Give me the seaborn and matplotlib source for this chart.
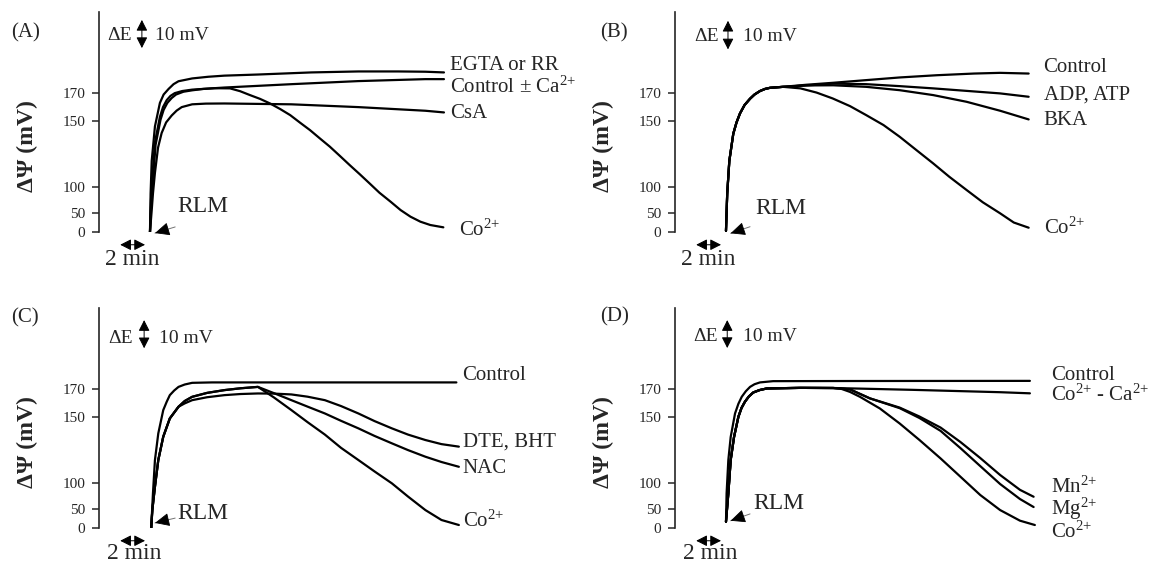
import numpy as np
import pandas as pd
import seaborn as sns
import matplotlib.pyplot as plt

# time in min after adding RLM, membrane potential in mV

# (A) EGTA / RR, control, CsA, Co2+
a_egta_t = [0, 0.05, 0.14, 0.4, 0.8, 1.1, 1.5, 1.9, 2.3, 3.4, 4.7, 6.0, 8.7, 13.0, 16.8, 20.0, 22.2, 23.7]
a_egta_mv = [0, 88, 120, 146, 163, 169, 173, 176.4, 178.5, 180.5, 181.7, 182.5, 183.3, 184.8, 185.5, 185.5, 185.3, 184.8]
a_ctrl_t = [0, 0.08, 0.16, 0.4, 0.8, 1.05, 1.35, 1.65, 2.0, 2.6, 3.4, 6.0, 11.4, 16.8, 22.2, 23.7]
a_ctrl_mv = [0, 75, 104, 134, 153, 160, 165, 168, 170, 171.5, 172.5, 174, 176.4, 178.6, 180, 180]
a_csa_t = [0, 0.14, 0.24, 0.4, 0.65, 0.94, 1.3, 1.75, 2.15, 2.56, 3.4, 4.5, 6.0, 11.4, 16.8, 22.2, 23.7]
a_csa_mv = [0, 56, 88, 111, 130, 141, 149, 154, 157.5, 160, 162, 162.5, 162.6, 162, 160, 157.4, 156.2]
a_co_t = [0, 0.1, 0.2, 0.45, 0.85, 1.1, 1.4, 1.75, 2.1, 2.7, 3.4, 4.3, 5.2, 6.45, 7.26, 8.06,
          8.87, 9.68, 10.5, 11.3, 12.1, 12.9, 13.7, 14.5, 15.3, 16.1, 16.9, 17.7, 18.5, 19.4,
          20.2, 21.0, 21.8, 22.6, 23.65]
a_co_mv = [0, 70, 100, 132, 151, 158, 163, 166.5, 169, 171, 172, 173, 173.5, 173.4, 171.4, 168.6,
           165.9, 162.6, 158.6, 154.3, 148.8, 143.2, 136.9, 130.7, 123.8, 116.8, 110, 103, 89.6, 72.3,
           56.3, 41, 27.6, 18.7, 12.5]

# (B) control, ADP/ATP, BKA, Co2+ (shared rise)
b_rise_t = [0, 0.1, 0.27, 0.59, 0.85, 1.13, 1.5, 1.94, 2.3, 2.74, 3.15, 3.55, 4.6]
b_rise_mv = [3, 88, 120, 140.5, 149, 155.5, 161.5, 166, 169, 171.5, 173, 173.8, 174.5]
b_ctrl_t = [6.5, 8.65, 11.3, 14.0, 17.0, 20.0, 22.1, 24.4]
b_ctrl_mv = [176, 177.4, 179.3, 181.2, 182.8, 184, 184.5, 184]
b_adp_t = [6.5, 8.65, 11.3, 14.0, 16.7, 19.4, 22.1, 24.4]
b_adp_mv = [175.5, 176.8, 176.4, 175, 173.4, 171.6, 169.8, 167.4]
b_bka_t = [6.5, 8.65, 11.3, 14.0, 16.7, 19.4, 22.1, 24.4]
b_bka_mv = [175.5, 175.6, 174.5, 172.1, 168.6, 163.8, 157.4, 151.2]
b_co_t = [6.0, 7.3, 8.6, 10.0, 11.3, 12.7, 14.0, 15.3, 16.7, 18.0, 19.4, 20.7, 22.1, 23.2, 24.4]
b_co_mv = [173.4, 170.4, 166.2, 160.7, 154.3, 147, 138.2, 128.5, 118.1, 108, 94.8, 71.3, 50, 25.4, 11.5]

# (C) control, DTE/BHT, NAC, Co2+
c_ctrl_t = [0.1, 0.24, 0.4, 0.67, 1.07, 1.35, 1.6, 1.95, 2.3, 2.8, 3.4, 5.0, 24.7]
c_ctrl_mv = [0, 80.7, 117.6, 137.7, 155, 161, 165.7, 169, 171.6, 173.3, 174.5, 174.8, 174.8]
c_rise_t = [0.1, 0.19, 0.4, 0.67, 1.07, 1.6, 2.3]
c_rise_mv = [0, 48.5, 93.5, 117.6, 135.2, 149, 157.4]
c_peak_t = [2.8, 3.4, 4.6, 6.0, 7.3, 8.7]
c_peak_mv = [161.5, 164.5, 167.3, 169.3, 170.6, 171.6]
c_dte_t = [2.8, 3.4, 4.6, 6.0, 7.3, 8.7, 10.0, 11.4, 12.7, 14.1, 15.4, 16.8, 18.1, 19.5, 20.8, 22.2, 23.5, 24.9]
c_dte_mv = [159.8, 162.1, 164.2, 165.7, 166.5, 166.9, 166.8, 166.2, 164.6, 162.1, 157.9, 152.6, 147,
            141.5, 136.8, 132.7, 129.6, 127.7]
c_nac_t = [10.0, 11.4, 12.7, 14.1, 15.4, 16.8, 18.1, 19.5, 20.8, 22.2, 23.5, 24.9]
c_nac_mv = [167.1, 162.1, 157.5, 152.6, 147.2, 141.5, 135.8, 130.2, 125.1, 120.1, 116.1, 112.5]
c_co_t = [10.0, 11.4, 12.7, 14.1, 15.4, 16.8, 18.1, 19.5, 20.8, 22.2, 23.5, 24.9]
c_co_mv = [164, 155, 146.2, 136.8, 126.8, 117.6, 109, 100, 74.6, 48, 21.4, 8]

# (D) control, Co2+ - Ca2+, Mn2+, Mg2+, Co2+
d_ctrl_t = [0, 0.05, 0.19, 0.38, 0.73, 1.0, 1.27, 1.6, 1.94, 2.3, 2.74, 3.8, 10.0, 24.5]
d_ctrl_mv = [17, 80.7, 117.6, 135, 152.6, 159.5, 164.5, 168.5, 171.6, 173.5, 174.8, 175.7, 175.8, 175.9]
d_rise_t = [0, 0.19, 0.38, 0.65, 1.0, 1.25, 1.53, 1.85, 2.2, 2.7, 3.3, 6.0, 8.65]
d_rise_mv = [17, 80.7, 117.6, 135, 150.2, 156.5, 161, 164.8, 167.6, 169.3, 170.5, 170.9, 170.8]
d_coca_t = [15.0, 22.1, 24.5]
d_coca_mv = [169.5, 167.8, 167.0]
d_mn_t = [10.0, 11.6, 14.0, 15.6, 17.3, 18.9, 20.5, 22.1, 23.7, 24.8]
d_mn_mv = [169.8, 163.4, 156.8, 150.4, 142.1, 131.2, 119.1, 106.3, 87.5, 74.2]
d_mg_t = [10.0, 11.6, 14.0, 15.6, 17.3, 18.9, 20.5, 22.1, 23.7, 24.8]
d_mg_mv = [169.8, 163.4, 156.4, 149.3, 139.6, 126.6, 113, 98.7, 69.8, 54.4]
d_co_t = [9.2, 10.0, 10.8, 12.4, 14.0, 15.6, 17.3, 18.9, 20.5, 22.1, 23.7, 24.9]
d_co_mv = [170.5, 168, 164.5, 156.2, 145.2, 132.7, 118.8, 105, 77.5, 48, 19.6, 8]

y_ticks = [0, 50, 100, 150, 170]

sns.set_style("ticks")
plt.rcParams["font.family"] = ["Liberation Serif", "DejaVu Serif"]
plt.rcParams["mathtext.fontset"] = "custom"
plt.rcParams["mathtext.rm"] = "Liberation Serif"
plt.rcParams["mathtext.it"] = "Liberation Serif:italic"
plt.rcParams["mathtext.bf"] = "Liberation Serif:bold"

# the potential axis is not linear: tick value -> height of the tick
SCALE_MV = [-50, 0, 50, 100, 150, 170, 260]
SCALE_PX = [-18.7, 0, 18.7, 44.7, 111, 139, 265]


def fwd(v):
    return np.interp(v, SCALE_MV, SCALE_PX)


def inv(p):
    return np.interp(p, SCALE_PX, SCALE_MV)


def frame(traces):
    parts = [pd.DataFrame({"t": t, "mv": v, "trace": name}) for name, (t, v) in traces.items()]
    return pd.concat(parts, ignore_index=True)


ION = "$^{2{+}}$"   # braces keep mathtext from spacing the plus sign

panels = [
    dict(letter="(A)", pos=(98.5, 232), letter_xy=(11, 33),
         traces={"egta": (a_egta_t, a_egta_mv), "ctrl": (a_ctrl_t, a_ctrl_mv),
                 "csa": (a_csa_t, a_csa_mv), "co": (a_co_t, a_co_mv)},
         labels=[(24.2, 190, "EGTA or RR"), (24.2, 174.3, "Control ± Ca" + ION),
                 (24.2, 155.7, "CsA"), (24.9, 5, "Co" + ION)],
         de=(0.023, 0.895, 0.116, 0.964, 0.836, 0.151),
         rlm=(0.21, 0.114, 0.205, 0.023, 0.151, -0.005),
         mins=(-1.45, -0.127)),
    dict(letter="(B)", pos=(674.5, 232), letter_xy=(600, 33),
         traces={"ctrl": (b_rise_t + b_ctrl_t, b_rise_mv + b_ctrl_mv),
                 "adp": (b_rise_t + b_adp_t, b_rise_mv + b_adp_mv),
                 "bka": (b_rise_t + b_bka_t, b_rise_mv + b_bka_mv),
                 "co": (b_rise_t + b_co_t, b_rise_mv + b_co_mv)},
         labels=[(25.6, 188, "Control"), (25.6, 168.6, "ADP, ATP"),
                 (25.6, 150.7, "BKA"), (25.6, 10.7, "Co" + ION)],
         de=(0.052, 0.888, 0.143, 0.96, 0.83, 0.183),
         rlm=(0.217, 0.109, 0.202, 0.024, 0.150, -0.006),
         mins=(-1.45, -0.127)),
    dict(letter="(C)", pos=(98.5, 528), letter_xy=(11, 318),
         traces={"ctrl": (c_ctrl_t, c_ctrl_mv),
                 "dte": (c_rise_t + c_dte_t, c_rise_mv + c_dte_mv),
                 "nac": (c_rise_t + c_peak_t + c_nac_t, c_rise_mv + c_peak_mv + c_nac_mv),
                 "co": (c_rise_t + c_peak_t + c_co_t, c_rise_mv + c_peak_mv + c_co_mv)},
         labels=[(25.2, 180, "Control"), (25.2, 131.4, "DTE, BHT"),
                 (25.2, 111.5, "NAC"), (25.2, 17, "Co" + ION)],
         de=(0.025, 0.862, 0.122, 0.945, 0.817, 0.162),
         rlm=(0.21, 0.068, 0.205, 0.045, 0.151, 0.023),
         mins=(-1.3, -0.115)),
    dict(letter="(D)", pos=(674.5, 528), letter_xy=(600, 317),
         traces={"ctrl": (d_ctrl_t, d_ctrl_mv),
                 "coca": (d_rise_t + d_coca_t, d_rise_mv + d_coca_mv),
                 "mn": (d_rise_t + d_mn_t, d_rise_mv + d_mn_mv),
                 "mg": (d_rise_t + d_mg_t, d_rise_mv + d_mg_mv),
                 "co": (d_rise_t + d_co_t, d_rise_mv + d_co_mv)},
         labels=[(26.2, 180, "Control"), (26.2, 166, "Co" + ION + " - Ca" + ION),
                 (26.2, 93.5, "Mn" + ION), (26.2, 50, "Mg" + ION), (26.2, -10, "Co" + ION)],
         de=(0.049, 0.87, 0.141, 0.945, 0.818, 0.184),
         rlm=(0.210, 0.111, 0.202, 0.064, 0.150, 0.033),
         mins=(-1.3, -0.115)),
]

W, H = 1151, 565
fig = plt.figure(figsize=(W / 100, H / 100), dpi=100)

dbl = dict(arrowstyle="<|-|>,head_length=0.55,head_width=0.28", color="black", lw=0.7,
           mutation_scale=12, shrinkA=0, shrinkB=0)

for p in panels:
    x0, y0 = p["pos"]
    ax = fig.add_axes([x0 / W, (H - y0) / H, 374 / W, 220 / H])
    df = frame(p["traces"])
    sns.lineplot(data=df, x="t", y="mv", units="trace", estimator=None,
                 color="black", lw=1.6, legend=False, ax=ax)
    ax.set_yscale("function", functions=(fwd, inv))
    ax.set_ylim(0, 228)
    ax.set_xlim(-4.15, 26)
    ax.set_yticks(y_ticks)
    ax.set_yticklabels([str(v) for v in y_ticks])
    ax.minorticks_off()
    ax.set_xticks([])
    ax.set_xlabel("")
    ax.set_ylabel("")
    sns.despine(ax=ax, bottom=True)
    ax.spines["left"].set_linewidth(1.2)
    ax.tick_params(axis="y", length=5, width=1.1, labelsize=11, pad=4.5)

    ax.text(-0.191, 0.39, "ΔΨ (mV)", transform=ax.transAxes, rotation=90,
            ha="center", va="center", fontsize=17, fontweight="bold")

    for t, v, s in p["labels"]:
        ax.text(t, v, s, ha="left", va="center", fontsize=15, clip_on=False)

    # ΔE scale bar
    dx, dy, ax_x, ay1, ay2, mx = p["de"]
    ax.text(dx, dy, "ΔE", transform=ax.transAxes, ha="left", va="center", fontsize=14)
    ax.annotate("", xy=(ax_x, ay1), xytext=(ax_x, ay2), xycoords="axes fraction",
                arrowprops=dbl)
    ax.text(mx, dy, "10 mV", transform=ax.transAxes, ha="left", va="center", fontsize=14)

    # RLM addition
    rx, ry, tx, ty, hx, hy = p["rlm"]
    ax.text(rx, ry, "RLM", transform=ax.transAxes, ha="left", va="center", fontsize=17)
    ax.annotate("", xy=(hx, hy), xytext=(tx, ty), xycoords="axes fraction",
                annotation_clip=False,
                arrowprops=dict(arrowstyle="-", color="0.45", lw=0.7, shrinkA=0, shrinkB=0))
    ax.annotate("", xy=(hx, hy), xytext=(hx + 0.4 * (tx - hx), hy + 0.4 * (ty - hy)),
                xycoords="axes fraction", annotation_clip=False,
                arrowprops=dict(arrowstyle="-|>,head_length=0.7,head_width=0.32",
                                color="black", lw=0.6, mutation_scale=13,
                                shrinkA=0, shrinkB=0))

    # 2 min time bar
    mt, my = p["mins"]
    ax.annotate("", xy=(-2.4, -0.058), xytext=(-0.4, -0.058),
                xycoords=("data", "axes fraction"), annotation_clip=False,
                arrowprops=dbl)
    ax.text(mt, my, "2 min", transform=ax.get_xaxis_transform(), ha="center",
            va="center", fontsize=17, clip_on=False)

    lx, ly = p["letter_xy"]
    fig.text(lx / W, 1 - ly / H, p["letter"], ha="left", va="center", fontsize=15)

fig.savefig("out.png", dpi=100)
